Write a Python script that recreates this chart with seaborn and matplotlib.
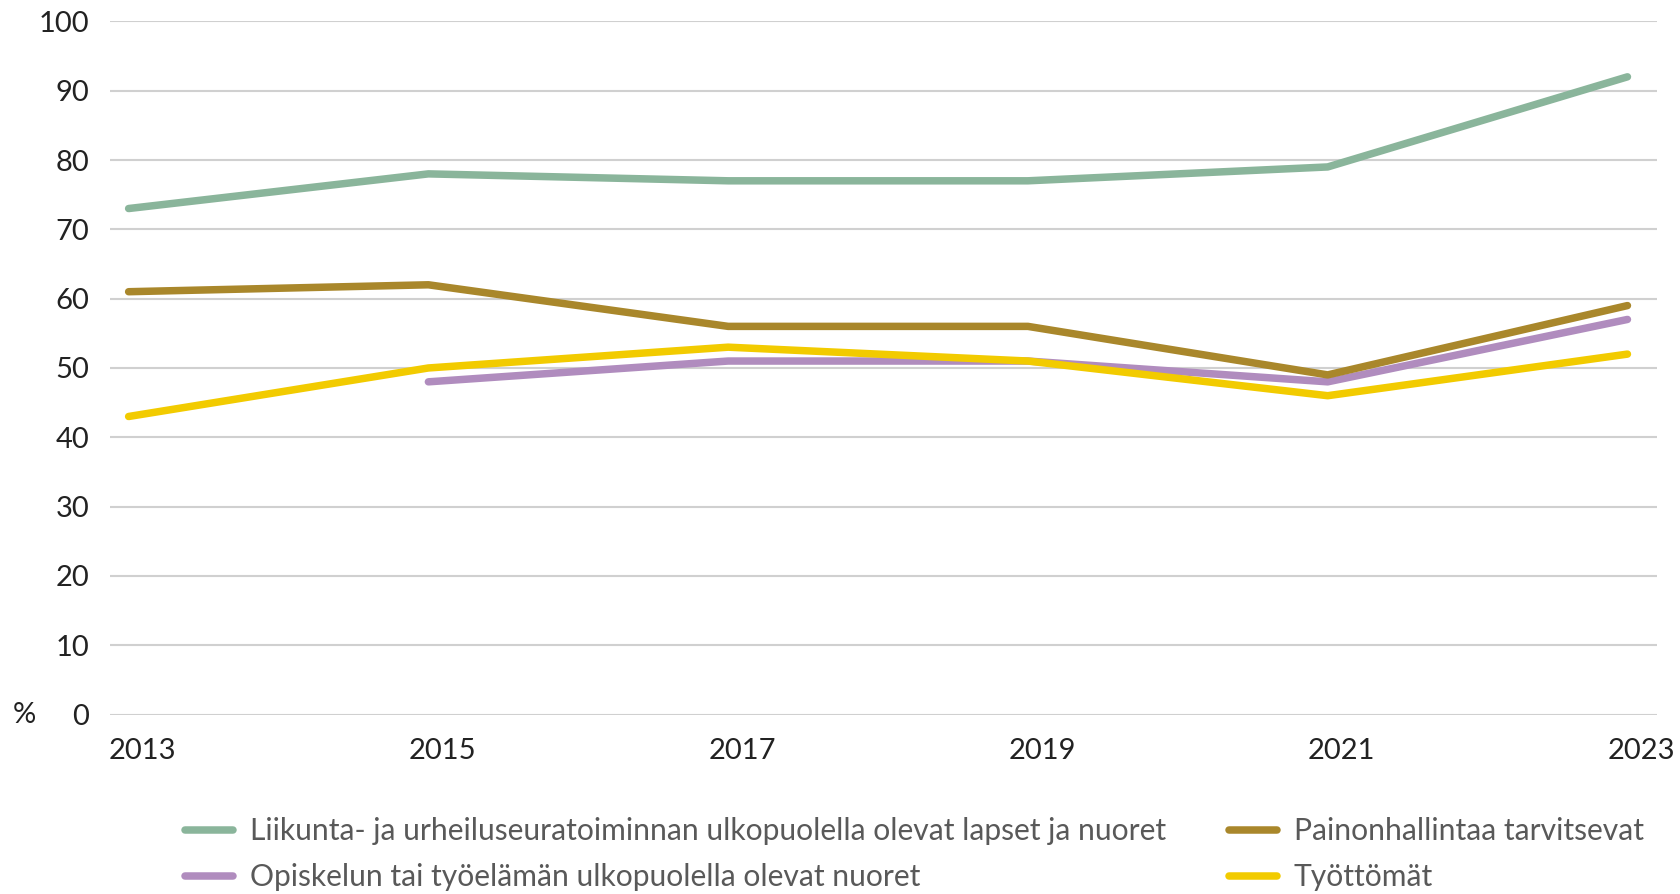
import pandas as pd
import matplotlib
matplotlib.use("Agg")
import matplotlib.pyplot as plt
import matplotlib.transforms as mtransforms
import seaborn as sns

# Values (%)
years = [2013, 2015, 2017, 2019, 2021, 2023]
liikunta = [73, 78, 77, 77, 79, 92]
opiskelu = [None, 48, 51, 51, 48, 57]
painonhallinta = [61, 62, 56, 56, 49, 59]
tyottomat = [43, 50, 53, 51, 46, 52]

series_names = [
    "Liikunta- ja urheiluseuratoiminnan ulkopuolella olevat lapset ja nuoret",
    "Opiskelun tai työelämän ulkopuolella olevat nuoret",
    "Painonhallintaa tarvitsevat",
    "Työttömät",
]
series_values = [liikunta, opiskelu, painonhallinta, tyottomat]
colors = ["#8ab59b", "#b08cbe", "#a9872b", "#f2cb00"]
yticks = [0, 10, 20, 30, 40, 50, 60, 70, 80, 90, 100]

# long-form table for seaborn, skip missing points
rows = []
for name, vals in zip(series_names, series_values):
    for y, v in zip(years, vals):
        if v is not None:
            rows.append({"vuosi": y, "arvo": v, "ryhma": name})
df = pd.DataFrame(rows)

sns.set_style("white")
plt.rcParams["font.family"] = ["Lato", "DejaVu Sans"]
fs = 21

fig = plt.figure(figsize=(16.8, 8.94), dpi=100)
ax = fig.add_axes([0.0655, 0.2007, 0.9208, 0.7754])

sns.lineplot(data=df, x="vuosi", y="arvo", hue="ryhma", hue_order=series_names,
             palette=dict(zip(series_names, colors)), linewidth=5.4,
             solid_capstyle="round", solid_joinstyle="round", ax=ax, legend=True)

ax.set_xlim(2012.876, 2023.197)
ax.set_ylim(0, 100)
ax.set_yticks(yticks)
ax.set_xticks(years)
ax.set_xticklabels([str(y) for y in years])
ax.yaxis.grid(True, color="#d0d0d0", linewidth=1.5)
ax.set_axisbelow(True)
for s in ax.spines.values():
    s.set_visible(False)
ax.tick_params(axis="both", length=0, labelsize=fs, colors="#222222")
ax.tick_params(axis="y", pad=15)
ax.tick_params(axis="x", pad=17)
ax.set_xlabel("")
ax.set_ylabel("")

# year labels sit a little right of the data points
offset = mtransforms.ScaledTranslation(0.14, 0, fig.dpi_scale_trans)
for lab in ax.get_xticklabels():
    lab.set_transform(lab.get_transform() + offset)

fig.text(0.0077, 0.2007, "%", fontsize=fs, color="#222222", va="center", ha="left")

handles, labels = ax.get_legend_handles_labels()
for h in handles:
    h.set_linewidth(5.4)
    h.set_solid_capstyle("round")
ax.legend(handles, labels, ncol=2, frameon=False, fontsize=21.6,
          labelcolor="#595959", handlelength=1.6, handletextpad=0.56,
          columnspacing=2.1, labelspacing=0.6, borderpad=0, borderaxespad=0,
          loc="lower left", bbox_to_anchor=(0.110, 0.003), bbox_transform=fig.transFigure)

fig.savefig("out.png", dpi=100)
